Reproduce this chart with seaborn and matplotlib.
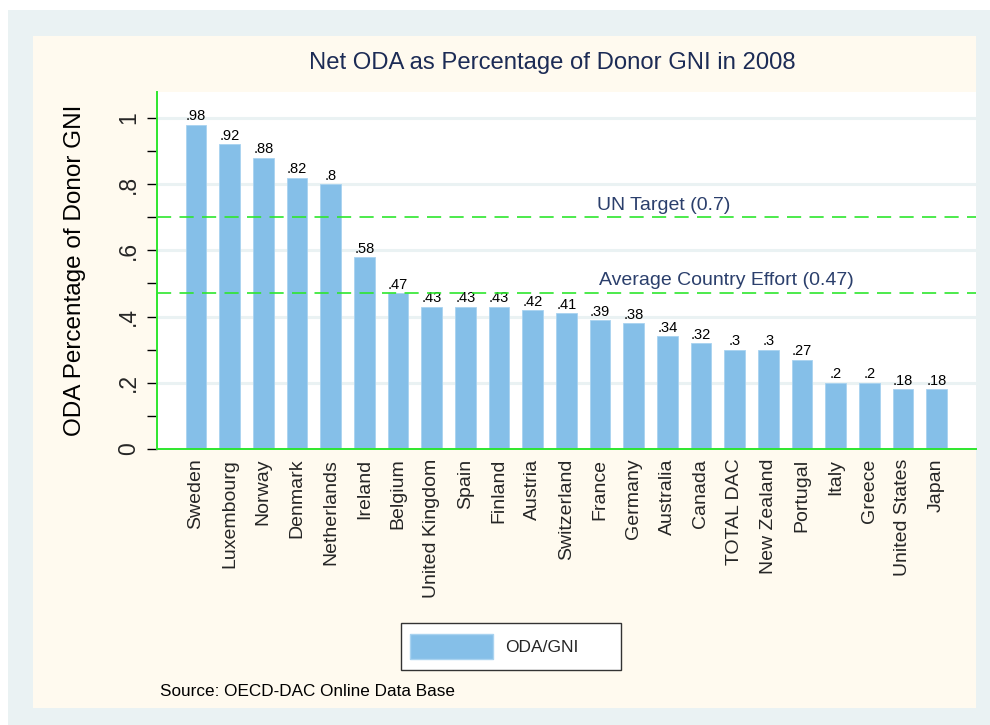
"""
Net ODA as percentage of donor GNI, 2008 (Stata-style bar chart)
"""

import numpy as np
import pandas as pd
import seaborn as sns
import matplotlib.pyplot as plt
from matplotlib.patches import Rectangle, Patch
from matplotlib.ticker import MultipleLocator
import matplotlib.transforms as mtransforms

sns.set_theme(style='white')
plt.rcParams['font.family'] = ['Liberation Sans', 'DejaVu Sans']

countries = ['Sweden', 'Luxembourg', 'Norway', 'Denmark', 'Netherlands', 'Ireland',
             'Belgium', 'United Kingdom', 'Spain', 'Finland', 'Austria', 'Switzerland',
             'France', 'Germany', 'Australia', 'Canada', 'TOTAL DAC', 'New Zealand',
             'Portugal', 'Italy', 'Greece', 'United States', 'Japan']
oda_gni = [0.98, 0.92, 0.88, 0.82, 0.80, 0.58, 0.47, 0.43, 0.43, 0.43, 0.42, 0.41,
           0.39, 0.38, 0.34, 0.32, 0.30, 0.30, 0.27, 0.20, 0.20, 0.18, 0.18]
y_ticks = [0, 0.2, 0.4, 0.6, 0.8, 1.0]
y_tick_labels = ['0', '.2', '.4', '.6', '.8', '1']
un_target = 0.7
avg_effort = 0.47

df = pd.DataFrame({'country': countries, 'value': oda_gni})

bar_col = '#85bfe8'
green = '#2ee62e'
navy = '#1c2b55'

W, H = 990, 725
fig = plt.figure(figsize=(W / 100, H / 100), dpi=100, facecolor='white')

# background panels (outer bluish, inner cream)
fig.patches.append(Rectangle((8 / W, 0), 1 - 8 / W, 1 - 10 / H, transform=fig.transFigure,
                             facecolor='#eaf2f3', edgecolor='none', zorder=-3))
fig.patches.append(Rectangle((33 / W, 1 - 708 / H), (976 - 33) / W, (708 - 36) / H,
                             transform=fig.transFigure, facecolor='#fffaef',
                             edgecolor='none', zorder=-2))

ax = fig.add_axes([157 / W, 1 - 449 / H, (976 - 157) / W, (449 - 92) / H])
ax.set_facecolor('white')

sns.barplot(data=df, x='country', y='value', color=bar_col, saturation=1,
            width=0.62, edgecolor='#a9d3f0', linewidth=0.6, ax=ax, zorder=3)

labels = ['{:g}'.format(v).lstrip('0') for v in oda_gni]
ax.bar_label(ax.containers[0], labels=labels, padding=1, fontsize=10.5, color='black')

ax.set_xlim(-1.16, len(countries) - 1 + 1.17)
ax.set_ylim(0, 1.0785)

ax.set_yticks(y_ticks)
ax.set_yticklabels(y_tick_labels, rotation=90, va='center', fontsize=16.5)
ax.yaxis.set_minor_locator(MultipleLocator(0.1))
ax.tick_params(axis='y', which='both', direction='out', length=7, width=1,
               color='black', pad=5, left=True)
ax.tick_params(axis='x', length=0, pad=7, labelsize=14, labelrotation=90)
for t in ax.get_xticklabels():
    t.set_va('top')

ax.yaxis.grid(True, which='major', color='#eaf2f3', linewidth=2.2, zorder=0)
ax.set_axisbelow(True)

for s in ['top', 'right']:
    ax.spines[s].set_visible(False)
for s in ['left', 'bottom']:
    ax.spines[s].set_color(green)
    ax.spines[s].set_linewidth(1.4)
    ax.spines[s].set_zorder(5)

# reference lines
ax.axhline(un_target, color=green, linewidth=1.2, dashes=(8.5, 5), zorder=4)
ax.axhline(avg_effort, color=green, linewidth=1.2, dashes=(8.5, 5), zorder=4)
trans = mtransforms.blended_transform_factory(ax.transAxes, ax.transData)
ax.text(0.537, un_target + 0.01, 'UN Target (0.7)', transform=trans, ha='left',
        va='bottom', fontsize=14, color='#2b3f6c')
ax.text(0.540, avg_effort + 0.012, 'Average Country Effort (0.47)', transform=trans,
        ha='left', va='bottom', fontsize=14, color='#2b3f6c')

ax.set_xlabel('')
ax.set_ylabel('ODA Percentage of Donor GNI', fontsize=17.5, color='black')
ax.yaxis.set_label_coords(-0.087, 0.5)

fig.text(552 / W, 1 - 63 / H, 'Net ODA as Percentage of Donor GNI in 2008',
         ha='center', va='center', fontsize=17.2, color=navy)

# legend box
fig.patches.append(Rectangle((401 / W, 1 - 670 / H), 220 / W, 47 / H,
                             transform=fig.transFigure, facecolor='white',
                             edgecolor='#333333', linewidth=1, zorder=1))
leg = fig.legend(handles=[Patch(facecolor=bar_col, edgecolor='#a9d3f0', label='ODA/GNI')],
                 loc='center left', bbox_to_anchor=(398 / W, 1 - 646.5 / H),
                 frameon=False, fontsize=12.5, handlelength=4.8, handleheight=1.75,
                 handletextpad=0.65, borderpad=0.2)

fig.text(160 / W, 1 - 691 / H, 'Source: OECD-DAC Online Data Base', ha='left',
         va='center', fontsize=12.3, color='black')

fig.savefig('out.png', dpi=100, facecolor='white')
